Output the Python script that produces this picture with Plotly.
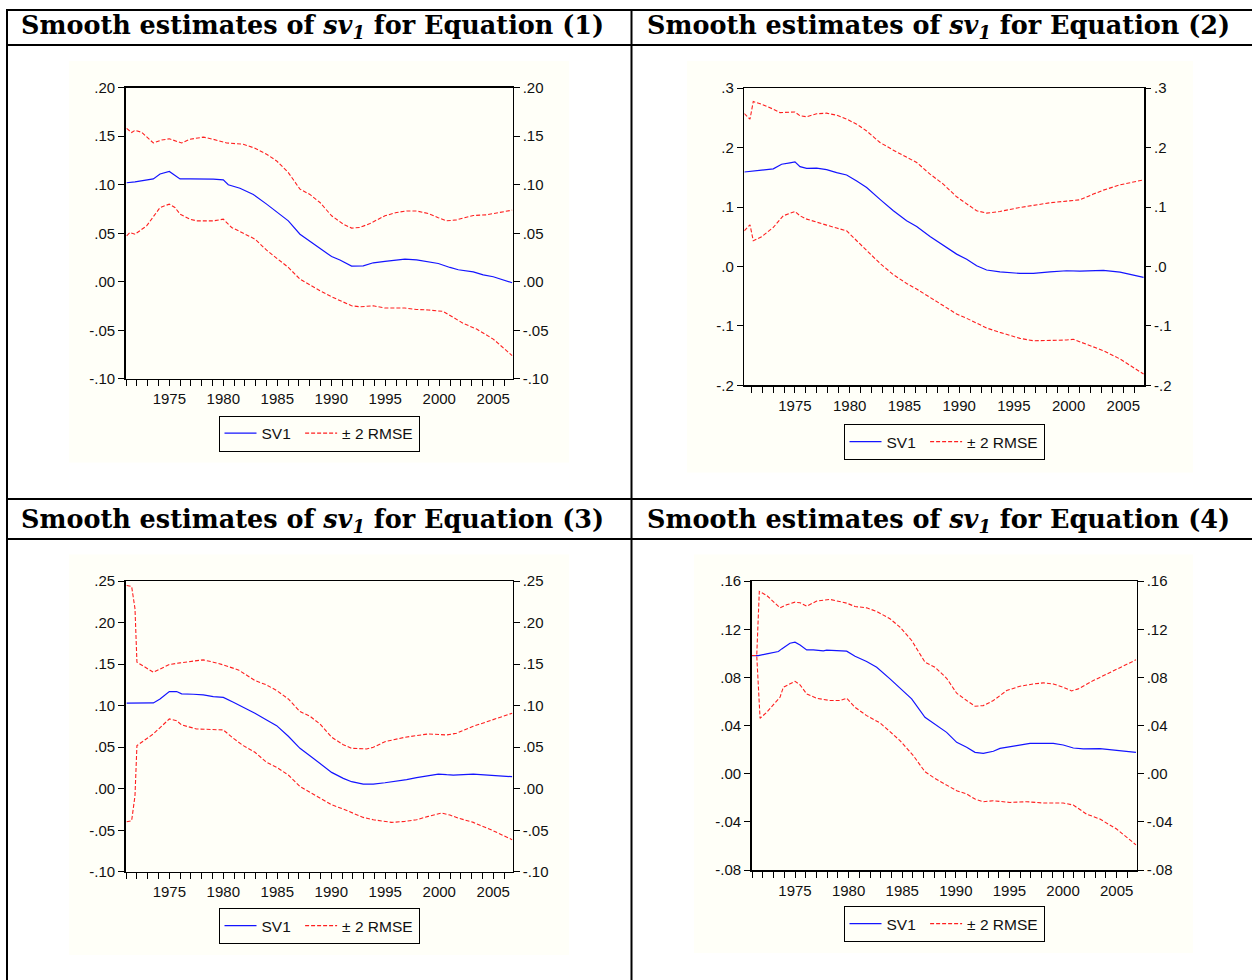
import plotly.graph_objects as go

# ---------------- data ----------------
TITLES = [
    "<b>Smooth estimates of <i>sv<sub>1</sub></i> for Equation (1)</b>",
    "<b>Smooth estimates of <i>sv<sub>1</sub></i> for Equation (2)</b>",
    "<b>Smooth estimates of <i>sv<sub>1</sub></i> for Equation (3)</b>",
    "<b>Smooth estimates of <i>sv<sub>1</sub></i> for Equation (4)</b>",
]
SERIES_NAMES = ["SV1\u00a0", "\u00b1 2 RMSE"]

X_TICKS = [1975, 1980, 1985, 1990, 1995, 2000, 2005]
X_LABELS = ["1975", "1980", "1985", "1990", "1995", "2000", "2005"]

Y1_TICKS = [-0.10, -0.05, 0.0, 0.05, 0.10, 0.15, 0.20]
Y1_LABELS = ["-.10", "-.05", ".00", ".05", ".10", ".15", ".20"]
Y2_TICKS = [-0.2, -0.1, 0.0, 0.1, 0.2, 0.3]
Y2_LABELS = ["-.2", "-.1", ".0", ".1", ".2", ".3"]
Y3_TICKS = [-0.10, -0.05, 0.0, 0.05, 0.10, 0.15, 0.20, 0.25]
Y3_LABELS = ["-.10", "-.05", ".00", ".05", ".10", ".15", ".20", ".25"]
Y4_TICKS = [-0.08, -0.04, 0.0, 0.04, 0.08, 0.12, 0.16]
Y4_LABELS = ["-.08", "-.04", ".00", ".04", ".08", ".12", ".16"]

# Equation (1)
C1_SV1_YEARS = [1971.05, 1971.82, 1973.52, 1974.14, 1975.0, 1975.99, 1976.91, 1977.99, 1979.07, 1980.0,
                1980.46, 1981.54, 1982.78, 1984.01, 1984.94, 1986.02, 1987.10, 1988.02, 1988.95, 1990.03,
                1990.80, 1991.88, 1992.96, 1993.89, 1994.97, 1996.82, 1997.90, 1998.98, 1999.91, 2000.99,
                2001.76, 2003.15, 2004.07, 2005.0, 2006.75]
C1_SV1 = [0.102, 0.103, 0.106, 0.111, 0.1136, 0.106, 0.106, 0.106, 0.1057, 0.105,
          0.100, 0.0964, 0.090, 0.080, 0.0724, 0.0628, 0.049, 0.042, 0.035, 0.026,
          0.0225, 0.0162, 0.0165, 0.0196, 0.021, 0.0233, 0.0226, 0.021, 0.0189, 0.0148,
          0.0124, 0.0103, 0.0072, 0.0052, -0.001]
C1_UP_YEARS = [1971.05, 1971.51, 1971.82, 1972.44, 1973.52, 1974.29, 1975.0, 1975.68, 1976.14, 1976.91,
               1978.15, 1979.07, 1980.31, 1981.85, 1982.93, 1984.01, 1984.94, 1986.02, 1987.10, 1988.02,
               1988.95, 1990.03, 1991.11, 1991.88, 1992.65, 1993.58, 1994.97, 1996.05, 1996.98, 1997.90,
               1998.98, 1999.91, 2000.68, 2001.60, 2003.15, 2004.38, 2005.62, 2006.75]
C1_UP = [0.158, 0.1537, 0.156, 0.154, 0.143, 0.146, 0.1473, 0.1444, 0.143, 0.1468,
         0.149, 0.1468, 0.143, 0.1417, 0.1376, 0.1314, 0.1245, 0.1125, 0.0954, 0.090,
         0.0817, 0.068, 0.0594, 0.0553, 0.056, 0.060, 0.068, 0.0714, 0.073, 0.073,
         0.0703, 0.066, 0.0628, 0.0638, 0.0683, 0.069, 0.0714, 0.0738]
C1_LO_YEARS = [1971.05, 1971.36, 1971.82, 1972.90, 1974.14, 1975.0, 1975.52, 1975.99, 1976.91, 1977.53,
               1979.07, 1980.0, 1980.77, 1981.85, 1982.93, 1984.01, 1984.94, 1986.02, 1987.10, 1988.02,
               1988.95, 1990.03, 1991.11, 1991.88, 1992.65, 1993.89, 1994.97, 1996.82, 1997.90, 1998.98,
               2000.37, 2001.60, 2002.22, 2003.46, 2005.0, 2006.75]
C1_LO = [0.0474, 0.0508, 0.049, 0.0576, 0.0765, 0.080, 0.0765, 0.0697, 0.0645, 0.0628,
         0.0628, 0.0645, 0.056, 0.0498, 0.044, 0.0326, 0.0244, 0.0148, 0.0028, -0.0034,
         -0.0092, -0.0154, -0.0206, -0.0247, -0.0257, -0.0247, -0.027, -0.027, -0.0285, -0.029,
         -0.0305, -0.0384, -0.0428, -0.0487, -0.059, -0.076]

# Equation (2)
C2_SV1_YEARS = [1970.37, 1971.19, 1971.95, 1973.02, 1973.78, 1974.54, 1975.0, 1975.46, 1976.07, 1976.98,
                1977.89, 1978.81, 1979.72, 1980.64, 1981.55, 1982.77, 1983.99, 1985.20, 1986.12, 1987.34,
                1988.55, 1989.77, 1990.69, 1991.60, 1992.51, 1993.73, 1995.56, 1996.78, 1998.30, 1999.82,
                2001.04, 2003.18, 2004.70, 2005.92, 2006.85]
C2_SV1 = [0.159, 0.16, 0.162, 0.1643, 0.172, 0.1744, 0.176, 0.168, 0.165, 0.1655,
          0.163, 0.158, 0.154, 0.144, 0.133, 0.113, 0.0937, 0.0769, 0.0674, 0.0506,
          0.0365, 0.0208, 0.0123, 0.0011, -0.006, -0.009, -0.0117, -0.0117, -0.009, -0.0072,
          -0.0078, -0.0066, -0.0094, -0.0139, -0.0184]
C2_UP_YEARS = [1970.37, 1970.89, 1971.19, 1971.95, 1973.02, 1973.63, 1975.0, 1975.46, 1976.07, 1976.98,
               1977.89, 1978.81, 1979.72, 1980.64, 1981.55, 1982.77, 1983.99, 1985.20, 1986.12, 1987.34,
               1988.55, 1989.77, 1990.69, 1991.60, 1992.51, 1993.73, 1995.56, 1996.78, 1998.30, 1999.82,
               2001.04, 2002.26, 2003.18, 2004.70, 2005.92, 2006.85]
C2_UP = [0.2574, 0.2479, 0.2776, 0.273, 0.2647, 0.259, 0.260, 0.2535, 0.252, 0.257,
         0.258, 0.2546, 0.248, 0.2395, 0.228, 0.2086, 0.1957, 0.1845, 0.175, 0.1554,
         0.1386, 0.1173, 0.105, 0.0937, 0.0898, 0.0926, 0.0993, 0.1027, 0.1072, 0.110,
         0.1122, 0.1218, 0.1285, 0.1374, 0.1425, 0.1458]
C2_LO_YEARS = [1970.37, 1970.89, 1971.19, 1971.95, 1973.02, 1973.93, 1975.0, 1975.46, 1976.07, 1976.98,
               1977.89, 1978.81, 1979.72, 1980.64, 1981.55, 1982.77, 1983.99, 1985.20, 1986.12, 1987.34,
               1988.55, 1989.77, 1990.69, 1991.60, 1992.51, 1993.73, 1995.56, 1996.78, 1998.30, 1999.82,
               2000.43, 2001.35, 2003.18, 2004.70, 2005.92, 2006.85]
C2_LO = [0.0601, 0.0702, 0.0433, 0.050, 0.0657, 0.0853, 0.0926, 0.0853, 0.0797, 0.0752,
         0.0696, 0.0646, 0.060, 0.0433, 0.0265, 0.0052, -0.0139, -0.0285, -0.038, -0.052,
         -0.066, -0.080, -0.0873, -0.0957, -0.1036, -0.1109, -0.121, -0.125, -0.125, -0.1238,
         -0.1226, -0.1294, -0.1417, -0.1557, -0.1697, -0.181]

# Equation (3)
C3_SV1_YEARS = [1971.05, 1972.28, 1973.52, 1974.14, 1975.0, 1975.68, 1976.14, 1977.22, 1978.15, 1979.07,
                1980.0, 1980.93, 1981.85, 1982.93, 1984.01, 1984.94, 1986.02, 1987.10, 1988.02, 1988.95,
                1990.03, 1991.11, 1991.88, 1992.96, 1993.89, 1994.97, 1996.05, 1996.98, 1997.90, 1998.98,
                1999.91, 2000.68, 2001.30, 2003.15, 2005.0, 2006.75]
C3_SV1 = [0.103, 0.1033, 0.1033, 0.108, 0.117, 0.117, 0.1142, 0.1138, 0.113, 0.111,
          0.110, 0.1041, 0.0981, 0.0909, 0.0828, 0.076, 0.0632, 0.0487, 0.0398, 0.031,
          0.0197, 0.0125, 0.0085, 0.0056, 0.0056, 0.0072, 0.0089, 0.0109, 0.0133, 0.0157,
          0.0177, 0.0169, 0.0165, 0.0177, 0.0161, 0.0145]
C3_UP_YEARS = [1971.05, 1971.51, 1971.82, 1972.0, 1973.52, 1974.14, 1975.0, 1975.99, 1977.22, 1978.15,
               1979.07, 1980.0, 1981.39, 1982.93, 1984.01, 1984.94, 1986.02, 1987.10, 1988.02, 1988.95,
               1990.03, 1991.11, 1991.88, 1993.27, 1993.89, 1994.97, 1996.82, 1998.98, 2000.68, 2001.60,
               2003.15, 2005.0, 2006.75]
C3_UP = [0.2448, 0.2436, 0.2167, 0.1524, 0.1403, 0.1443, 0.1495, 0.1516, 0.1536, 0.1552,
         0.1524, 0.1491, 0.1431, 0.1303, 0.125, 0.1182, 0.1081, 0.0929, 0.0873, 0.078,
         0.062, 0.0531, 0.0487, 0.0479, 0.0499, 0.0567, 0.062, 0.066, 0.0648, 0.0668,
         0.0752, 0.0828, 0.0909]
C3_LO_YEARS = [1971.05, 1971.51, 1971.82, 1972.0, 1973.52, 1974.14, 1975.0, 1975.68, 1976.14, 1977.53,
               1979.07, 1980.0, 1980.93, 1981.85, 1982.93, 1984.01, 1984.94, 1986.02, 1987.10, 1988.02,
               1988.95, 1990.03, 1991.11, 1991.88, 1992.96, 1993.89, 1995.59, 1996.82, 1997.90, 1998.98,
               2000.22, 2000.99, 2001.76, 2003.15, 2005.0, 2006.75]
C3_LO = [-0.0397, -0.0385, -0.0084, 0.0519, 0.066, 0.074, 0.084, 0.082, 0.0768, 0.072,
         0.0708, 0.0708, 0.0607, 0.0519, 0.0439, 0.0318, 0.0258, 0.0165, 0.0028, -0.0044,
         -0.0116, -0.0193, -0.0245, -0.0285, -0.0345, -0.0373, -0.0405, -0.0393, -0.0373, -0.0333,
         -0.0293, -0.0317, -0.0353, -0.0405, -0.0506, -0.0614]

# Equation (4)
C4_SV1_YEARS = [1970.96, 1971.58, 1972.36, 1973.45, 1973.76, 1974.53, 1975.0, 1975.47, 1976.09, 1976.71,
                1977.64, 1977.95, 1979.82, 1980.60, 1981.68, 1982.62, 1983.86, 1984.79, 1985.88, 1987.12,
                1988.06, 1989.14, 1990.08, 1991.01, 1991.79, 1992.56, 1993.50, 1994.12, 1995.67, 1996.92,
                1999.09, 2000.02, 2000.96, 2001.89, 2003.44, 2005.0, 2006.8]
C4_SV1 = [0.0982, 0.0982, 0.0996, 0.1015, 0.1037, 0.1084, 0.1093, 0.107, 0.1029, 0.1029,
          0.1021, 0.1026, 0.1018, 0.0976, 0.0932, 0.0885, 0.0788, 0.071, 0.0622, 0.0469,
          0.0414, 0.0344, 0.0261, 0.022, 0.0178, 0.017, 0.0187, 0.0211, 0.0233, 0.0253,
          0.0253, 0.0239, 0.0214, 0.0206, 0.0209, 0.0197, 0.0178]
C4_UP_YEARS = [1970.96, 1971.43, 1971.67, 1972.36, 1973.60, 1974.22, 1975.0, 1975.47, 1976.09, 1977.02,
               1978.26, 1979.20, 1979.82, 1980.60, 1981.68, 1982.62, 1983.86, 1984.79, 1985.88, 1987.12,
               1988.06, 1989.14, 1990.08, 1991.01, 1991.79, 1992.56, 1993.50, 1994.74, 1995.98, 1997.23,
               1998.16, 1999.09, 2000.02, 2000.80, 2001.42, 2002.82, 2005.0, 2006.8]
C4_UP = [0.0982, 0.0982, 0.1514, 0.1481, 0.1378, 0.1403, 0.1425, 0.142, 0.1392, 0.1434,
         0.1448, 0.1431, 0.1417, 0.1389, 0.1378, 0.1348, 0.1287, 0.1218, 0.1107, 0.0927,
         0.0885, 0.0793, 0.0669, 0.0608, 0.0561, 0.0566, 0.0608, 0.0691, 0.0727, 0.0746,
         0.0755, 0.0746, 0.0719, 0.0688, 0.0705, 0.0774, 0.0866, 0.0946]
C4_LO_YEARS = [1970.96, 1971.43, 1971.74, 1972.36, 1973.60, 1973.91, 1975.0, 1975.47, 1976.09, 1977.02,
               1978.26, 1979.20, 1979.82, 1980.60, 1981.68, 1982.93, 1983.86, 1984.79, 1986.04, 1987.12,
               1988.06, 1989.14, 1990.08, 1991.01, 1991.79, 1992.56, 1993.50, 1995.05, 1996.60, 1998.16,
               2000.02, 2000.96, 2002.20, 2003.44, 2005.0, 2006.8]
C4_LO = [0.0982, 0.0982, 0.0461, 0.0511, 0.0635, 0.0719, 0.0768, 0.0738, 0.0663, 0.0627,
         0.0608, 0.0608, 0.0627, 0.0552, 0.0483, 0.0422, 0.035, 0.0275, 0.015, 0.0017,
         -0.0039, -0.0091, -0.0141, -0.0168, -0.021, -0.0232, -0.0224, -0.0238, -0.0232, -0.0243,
         -0.0243, -0.026, -0.0335, -0.0376, -0.0459, -0.059]

# ---------------- layout geometry / style ----------------
# In the photographed page the figure appears 8px lower and slightly squeezed
# vertically (factor 964/980); vertical page positions are mapped back here.
W = 1252
FIG_H = 980
Y_OFF = 8
Y_SCALE = 964 / 980

def px(x):
    return x / W
def py(y):
    return 1 - ((y - Y_OFF) / Y_SCALE) / FIG_H

BLUE = "#1414ff"
RED = "#ff2020"
IVORY = "#fffff8"
AXIS_FONT = dict(family="Liberation Sans, Arial, sans-serif", size=15, color="#111111")
LEG_FONT = dict(family="Liberation Sans, Arial, sans-serif", size=15.5, color="#111111")

panels = [
    dict(box=(125.7, 512.7, 86.7, 378.3), xr=[1970.96, 2006.8], yr=[-0.10, 0.20],
         yt=Y1_TICKS, yl=Y1_LABELS, leg=(319, 415), bg=(69, 569, 60, 462),
         data=[(C1_SV1_YEARS, C1_SV1), (C1_UP_YEARS, C1_UP), (C1_LO_YEARS, C1_LO)]),
    dict(box=(744.3, 1144.0, 87.3, 384.7), xr=[1970.37, 2006.89], yr=[-0.2, 0.3],
         yt=Y2_TICKS, yl=Y2_LABELS, leg=(944, 423.5), bg=(687, 1193, 60, 472),
         data=[(C2_SV1_YEARS, C2_SV1), (C2_UP_YEARS, C2_UP), (C2_LO_YEARS, C2_LO)]),
    dict(box=(125.7, 512.7, 580.7, 871.7), xr=[1970.96, 2006.8], yr=[-0.10, 0.25],
         yt=Y3_TICKS, yl=Y3_LABELS, leg=(319, 908), bg=(69, 569, 554, 955),
         data=[(C3_SV1_YEARS, C3_SV1), (C3_UP_YEARS, C3_UP), (C3_LO_YEARS, C3_LO)]),
    dict(box=(751.7, 1136.7, 580.7, 870.0), xr=[1970.96, 2006.87], yr=[-0.08, 0.16],
         yt=Y4_TICKS, yl=Y4_LABELS, leg=(944, 906), bg=(694, 1193, 554, 953),
         data=[(C4_SV1_YEARS, C4_SV1), (C4_UP_YEARS, C4_UP), (C4_LO_YEARS, C4_LO)]),
]

fig = go.Figure()
layout = dict(
    width=W, height=FIG_H, margin=dict(l=0, r=0, t=0, b=0, pad=0),
    paper_bgcolor="white", plot_bgcolor="rgba(0,0,0,0)",
    showlegend=True, hovermode=False,
)
shapes = []
annotations = []

for i, p in enumerate(panels):
    n = i + 1
    xa = "xaxis" if n == 1 else f"xaxis{n}"
    ya = "yaxis" if n == 1 else f"yaxis{n}"
    yr_name = f"yaxis{n + 4}"
    xref = "x" if n == 1 else f"x{n}"
    yref = "y" if n == 1 else f"y{n}"
    yref_r = f"y{n + 4}"
    leg_name = "legend" if n == 1 else f"legend{n}"
    x0, x1, y0, y1 = p["box"]

    layout[xa] = dict(
        domain=[px(x0), px(x1)], anchor=yref, range=p["xr"],
        tickmode="array", tickvals=X_TICKS, ticktext=X_LABELS,
        ticks="outside", ticklen=6, tickwidth=1, tickcolor="black",
        minor=dict(tickmode="linear", tick0=1971, dtick=1, ticks="outside",
                   ticklen=6, tickwidth=1, tickcolor="black", showgrid=False),
        showline=True, linecolor="black", linewidth=1.5, mirror=True,
        showgrid=False, zeroline=False, tickfont=AXIS_FONT, fixedrange=True,
    )
    layout[ya] = dict(
        domain=[py(y1), py(y0)], anchor=xref, range=p["yr"],
        tickmode="array", tickvals=p["yt"], ticktext=p["yl"],
        ticks="outside", ticklen=6, tickwidth=1, tickcolor="black",
        showline=True, linecolor="black", linewidth=1.5, mirror=True,
        showgrid=False, zeroline=False, tickfont=AXIS_FONT, fixedrange=True,
    )
    layout[yr_name] = dict(
        overlaying=yref, anchor=xref, side="right", range=p["yr"],
        tickmode="array", tickvals=p["yt"], ticktext=p["yl"],
        ticks="outside", ticklen=6, tickwidth=1, tickcolor="black",
        showline=False, showgrid=False, zeroline=False, tickfont=AXIS_FONT,
        fixedrange=True,
    )
    lx, ly = p["leg"]
    layout[leg_name] = dict(
        x=px(lx), y=py(ly), xanchor="center", yanchor="top", orientation="h",
        bordercolor="black", borderwidth=1, bgcolor=IVORY,
        font=LEG_FONT, itemwidth=32, tracegroupgap=0,
    )

    (sx, sy), (ux, uy), (lox, loy) = p["data"]
    fig.add_trace(go.Scatter(x=sx, y=sy, mode="lines", name=SERIES_NAMES[0],
                             line=dict(color=BLUE, width=1.2),
                             xaxis=xref, yaxis=yref, legend=leg_name))
    fig.add_trace(go.Scatter(x=ux, y=uy, mode="lines", name=SERIES_NAMES[1],
                             line=dict(color=RED, width=1.1, dash="4px,2px"),
                             xaxis=xref, yaxis=yref, legend=leg_name))
    fig.add_trace(go.Scatter(x=lox, y=loy, mode="lines", name=SERIES_NAMES[1],
                             line=dict(color=RED, width=1.1, dash="4px,2px"),
                             xaxis=xref, yaxis=yref, legend=leg_name, showlegend=False))
    # invisible trace on the right axis so that it is drawn
    fig.add_trace(go.Scatter(x=[p["xr"][0]], y=[p["yr"][0]], mode="markers",
                             marker=dict(opacity=0), xaxis=xref, yaxis=yref_r,
                             showlegend=False))

    bx0, bx1, by0, by1 = p["bg"]
    shapes.append(dict(type="rect", xref="paper", yref="paper", layer="below",
                       x0=px(bx0), x1=px(bx1), y0=py(by1), y1=py(by0),
                       fillcolor=IVORY, line=dict(width=0)))

# table grid lines
def hline(y, xa=6, xb=1252, w=2):
    shapes.append(dict(type="line", xref="paper", yref="paper", x0=px(xa), x1=px(xb),
                       y0=py(y), y1=py(y), line=dict(color="black", width=w), layer="above"))
def vline(x, ya=9, yb=990, w=2):
    shapes.append(dict(type="line", xref="paper", yref="paper", x0=px(x), x1=px(x),
                       y0=py(ya), y1=py(yb), line=dict(color="black", width=w), layer="above"))

hline(9)
hline(44)
hline(498.5)
hline(538.5)
vline(7)
vline(631.5)

# header titles
title_pos = [(19, 26), (645, 26), (19, 520), (645, 520)]
for t, (tx, ty) in zip(TITLES, title_pos):
    annotations.append(dict(text=t, xref="paper", yref="paper", x=px(tx), y=py(ty),
                            xanchor="left", yanchor="middle", showarrow=False,
                            font=dict(family="DejaVu Serif, serif",
                                      size=25.5, color="black")))

layout["shapes"] = shapes
layout["annotations"] = annotations
fig.update_layout(**layout)

fig.write_html("out.html", config={"displayModeBar": False, "staticPlot": True})
